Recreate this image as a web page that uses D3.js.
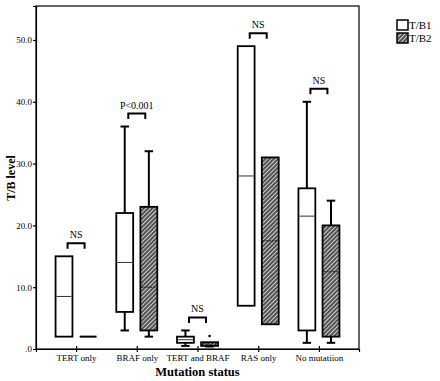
<!DOCTYPE html>
<html><head><meta charset="utf-8">
<script src="https://cdn.jsdelivr.net/npm/d3@7"></script>
<style>
html,body{margin:0;padding:0;background:#fff;}
svg text{font-family:'Liberation Serif','Times New Roman',serif !important;fill:#000;}
</style></head>
<body><svg id="c" width="440" height="381"></svg>
<script>
const categories = ["TERT only","BRAF only","TERT and BRAF","RAS only","No mutatiion"];
const series = ["T/B1","T/B2"];
// T/B1 box statistics
const b1Min = [2, 3, 0.5, 7, 1];
const b1Q1  = [2, 6, 1, 7, 3];
const b1Med = [8.5, 14, 1.5, 28, 21.5];
const b1Q3  = [15, 22, 2, 49, 26];
const b1Max = [15, 36, 3, 49, 40];
// T/B2 box statistics
const b2Min = [2, 2, 0.4, 4, 1];
const b2Q1  = [2, 3, 0.5, 4, 2];
const b2Med = [2, 10, 0.8, 17.5, 12.5];
const b2Q3  = [2, 23, 1.1, 31, 20];
const b2Max = [2, 32, 1.1, 31, 24];
const b2Outliers = [[], [], [2.1], [], []];
const pLabels = ["NS","P<0.001","NS","NS","NS"];
const yTicks = [0, 10, 20, 30, 40, 50];

const svg = d3.select("#c");
const L = 36, R = 359, T = 6, B = 349;

const defs = svg.append("defs");
const pat = defs.append("pattern").attr("id","hatch").attr("patternUnits","userSpaceOnUse")
  .attr("width",3).attr("height",3).attr("patternTransform","rotate(45)");
pat.append("rect").attr("width",3).attr("height",3).attr("fill","#444");
pat.append("line").attr("x1",1.5).attr("y1",0).attr("x2",1.5).attr("y2",3)
  .attr("stroke","#d0d0d0").attr("stroke-width",1.2);

const x = d3.scalePoint().domain(categories).range([L, R]).padding(0.66);
const xi = d3.scaleBand().domain(series).range([-20.5, 20.5]).paddingInner(0.3);
const y = d3.scaleLinear().domain([0, 55.5]).range([B, T]);

// frame
svg.append("rect").attr("x",L).attr("y",T).attr("width",R-L).attr("height",B-T)
  .attr("fill","none").attr("stroke","#000").attr("stroke-width",1.2);

// axes
const ya = svg.append("g").attr("transform",`translate(${L},0)`)
  .call(d3.axisLeft(y).tickValues(yTicks).tickSize(3).tickPadding(1)
    .tickFormat(d => d === 0 ? ".0" : d.toFixed(1)));
ya.attr("font-family", null);
ya.selectAll("text").style("font-size","9px");
ya.select(".domain").attr("stroke-width",1.2);
ya.selectAll(".tick line").attr("stroke-width",1.2);

const xa = svg.append("g").attr("transform",`translate(0,${B})`)
  .call(d3.axisBottom(x).tickSize(3).tickPadding(3));
xa.attr("font-family", null);
xa.selectAll("text").style("font-size","9px");
xa.selectAll(".tick line").attr("y1",-3).attr("y2",3).attr("stroke-width",1.2);
xa.select(".domain").attr("stroke-width",1.2);

// boxes
const stats = [
  {s:"T/B1", min:b1Min, q1:b1Q1, med:b1Med, q3:b1Q3, max:b1Max, out:categories.map(()=>[])},
  {s:"T/B2", min:b2Min, q1:b2Q1, med:b2Med, q3:b2Q3, max:b2Max, out:b2Outliers}
];
const bw = xi.bandwidth();
stats.forEach(st => {
  categories.forEach((c, i) => {
    const x0 = x(c) + xi(st.s);
    const cx = x0 + bw/2;
    const g = svg.append("g");
    const capW = bw*0.5;
    if (st.max[i] > st.q3[i]) {
      g.append("line").attr("x1",cx).attr("x2",cx).attr("y1",y(st.q3[i])).attr("y2",y(st.max[i]))
        .attr("stroke","#000").attr("stroke-width",2);
      g.append("line").attr("x1",cx-capW/2).attr("x2",cx+capW/2).attr("y1",y(st.max[i])).attr("y2",y(st.max[i]))
        .attr("stroke","#000").attr("stroke-width",2);
    }
    if (st.min[i] < st.q1[i]) {
      g.append("line").attr("x1",cx).attr("x2",cx).attr("y1",y(st.q1[i])).attr("y2",y(st.min[i]))
        .attr("stroke","#000").attr("stroke-width",2);
      g.append("line").attr("x1",cx-capW/2).attr("x2",cx+capW/2).attr("y1",y(st.min[i])).attr("y2",y(st.min[i]))
        .attr("stroke","#000").attr("stroke-width",2);
    }
    if (st.q3[i] > st.q1[i]) {
      g.append("rect").attr("x",x0).attr("y",y(st.q3[i])).attr("width",bw)
        .attr("height",y(st.q1[i]) - y(st.q3[i]))
        .attr("fill", st.s === "T/B1" ? "#fff" : "url(#hatch)")
        .attr("stroke","#000").attr("stroke-width",1.8);
      g.append("line").attr("x1",x0+1).attr("x2",x0+bw-1).attr("y1",y(st.med[i])).attr("y2",y(st.med[i]))
        .attr("stroke", st.s === "T/B1" ? "#333" : "#111").attr("stroke-width",1)
        .attr("stroke-dasharray", st.s === "T/B1" ? null : "2,1");
    } else {
      g.append("line").attr("x1",x0).attr("x2",x0+bw).attr("y1",y(st.q1[i])).attr("y2",y(st.q1[i]))
        .attr("stroke","#000").attr("stroke-width",2);
    }
    st.out[i].forEach(v => {
      g.append("circle").attr("cx",cx).attr("cy",y(v)).attr("r",1.3).attr("fill","#000");
    });
  });
});

// significance brackets
categories.forEach((c, i) => {
  const top = Math.max(b1Max[i], b2Max[i]);
  const by = y(top) - 13;
  const cx = x(c);
  svg.append("path")
    .attr("d", `M${cx-8.5},${by+5.5}V${by}H${cx+8.5}V${by+5.5}`)
    .attr("fill","none").attr("stroke","#000").attr("stroke-width",2);
  svg.append("text").attr("x",cx).attr("y",by-5).attr("text-anchor","middle")
    .style("font-size","10px").text(pLabels[i]);
});

// axis titles
svg.append("text").attr("x",(L+R)/2).attr("y",376).attr("text-anchor","middle")
  .style("font-size","12.5px").style("font-weight","bold").text("Mutation status");
svg.append("text").attr("transform",`translate(15,178) rotate(-90)`).attr("text-anchor","middle")
  .style("font-size","12px").style("font-weight","bold").text("T/B level");

// legend
const lg = svg.append("g");
series.forEach((s, k) => {
  lg.append("rect").attr("x",397).attr("y",20 + k*13).attr("width",11).attr("height",10)
    .attr("fill", k === 0 ? "#fff" : "url(#hatch)").attr("stroke","#000").attr("stroke-width",1.5);
  lg.append("text").attr("x",409).attr("y",29 + k*13).style("font-size","11px").text(s);
});
</script></body></html>
